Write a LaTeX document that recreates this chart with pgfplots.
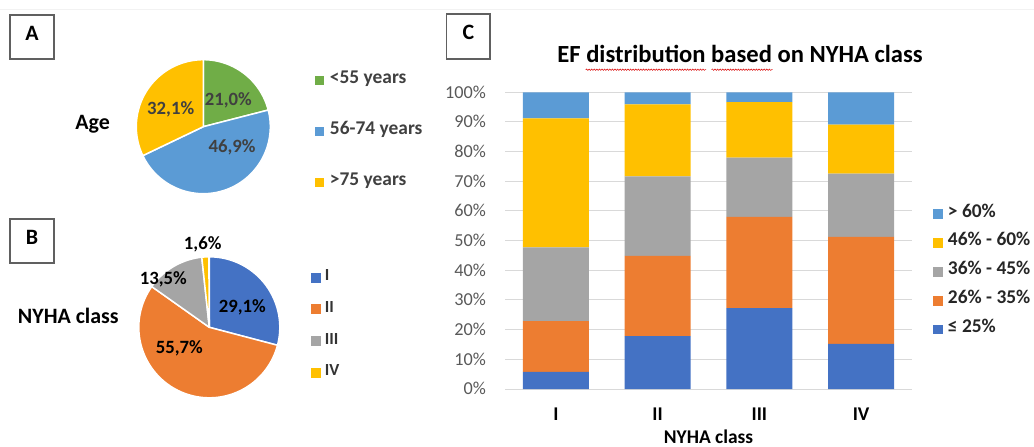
\documentclass[border=0pt]{standalone}
\usepackage{fontspec}
\setmainfont{Carlito}
\usepackage{pgfplots}
\pgfplotsset{compat=1.18}
\usepackage{pgfplotstable}
\usepgfplotslibrary{polar}
\usetikzlibrary{decorations.pathmorphing}
\definecolor{cBlue}{HTML}{4472C4}
\definecolor{cOrange}{HTML}{ED7D31}
\definecolor{cGray}{HTML}{A5A5A5}
\definecolor{cGold}{HTML}{FFC000}
\definecolor{cLBlue}{HTML}{5B9BD5}
\definecolor{cGreen}{HTML}{70AD47}
\definecolor{tDark}{HTML}{404040}
\definecolor{tTick}{HTML}{595959}
\definecolor{gridc}{HTML}{D9D9D9}
\definecolor{boxc}{HTML}{606060}

% EF distribution (stacked shares, %) per NYHA class
\pgfplotstableread{
cls le25 b2635 b3645 b4660 gt60
0 5.8 17.1 24.8 43.5 8.8
1 17.8 27.1 26.8 24.2 4.1
2 27.3 30.7 20.0 18.7 3.3
3 15.2 36.1 21.3 16.5 10.9
}\efdata

% pie slice: colour, cumulative share before, share (percent), clockwise from 12 o'clock
\newcommand\pieslice[3]{%
  \pgfmathsetmacro\pa{90-3.6*(#2+#3)}%
  \pgfmathsetmacro\pb{90-3.6*(#2)}%
  \edef\doslice{\noexpand\addplot[fill=#1, draw=white, line width=1.5pt, line join=round, domain=\pa:\pb, samples=90]}%
  \doslice {1} -- (axis cs:0,0) -- cycle;%
}

\tikzset{cc/.style={inner sep=0pt, text height=0.632em, text depth=0pt, anchor=center}}

\begin{document}
\begin{tikzpicture}
\path[use as bounding box] (0,0) rectangle (1034bp,-447bp);
\draw[black!5, line width=0.8pt] (0,-9.5bp) -- (1034bp,-9.5bp);

% ---------- panel boxes ----------
\draw[boxc, line width=1.1pt] (10bp,-15bp) rectangle (54bp,-59bp);
\node[cc, font=\fontsize{22}{26}\selectfont\bfseries] at (32bp,-37bp) {A};
\draw[boxc, line width=1.1pt] (10bp,-219bp) rectangle (54bp,-263bp);
\node[cc, font=\fontsize{22}{26}\selectfont\bfseries] at (32bp,-241bp) {B};
\draw[boxc, line width=1.1pt] (446.7bp,-14bp) rectangle (490bp,-59bp);
\node[cc, font=\fontsize{22}{26}\selectfont\bfseries] at (468.3bp,-36.5bp) {C};

% ---------- panel A ----------
\node[cc, font=\fontsize{22}{26}\selectfont\bfseries] at (92.7bp,-126bp) {Age};
\begin{polaraxis}[
  at={(203.3bp,-126.7bp)}, anchor=center,
  scale only axis, width=134bp, height=134bp,
  ymin=0, ymax=1, hide axis, clip=false,
  legend style={at={(1.3336,0.4649)}, anchor=west, draw=none, fill=none,
    inner sep=0pt, outer sep=0pt, row sep=41.6pt, column sep=5.5pt,
    font=\fontsize{19.5}{23}\selectfont\bfseries, text=tDark,
    cells={anchor=west}, nodes={inner sep=0pt, text height=0.632em, text depth=0pt}},
  legend image code/.code={\fill[#1, draw=none] (0pt,-4.75pt) rectangle (9.5pt,4.75pt);},
]
\pieslice{cGreen}{0}{21.0}\addlegendentry{<55 years}
\pieslice{cLBlue}{21.0}{46.9}\addlegendentry{56-74 years}
\pieslice{cGold}{67.9}{32.1}\addlegendentry{>75 years}
\end{polaraxis}
\begin{scope}[every node/.style={cc, font=\fontsize{18.8}{22}\selectfont\bfseries, text=tDark}]
\node at (228.3bp,-102bp) {21,0\%};
\node at (232bp,-149bp) {46,9\%};
\node at (170.7bp,-111.7bp) {32,1\%};
\end{scope}

% ---------- panel B ----------
\node[cc, font=\fontsize{22}{26}\selectfont\bfseries] at (68.3bp,-320.5bp) {NYHA class};
\begin{polaraxis}[
  at={(209.3bp,-327.3bp)}, anchor=center,
  scale only axis, width=141bp, height=141bp,
  ymin=0, ymax=1, hide axis, clip=false,
  legend style={at={(1.219,0.5149)}, anchor=west, draw=none, fill=none,
    inner sep=0pt, outer sep=0pt, row sep=21.8pt, column sep=4.3pt,
    font=\fontsize{17}{20}\selectfont\bfseries, text=black!80,
    cells={anchor=west}, nodes={inner sep=0pt, text height=0.632em, text depth=0pt}},
  legend image code/.code={\fill[#1, draw=none] (0pt,-5pt) rectangle (10pt,5pt);},
]
\pieslice{cBlue}{0}{29.1}\addlegendentry{I}
\pieslice{cOrange}{29.1}{55.7}\addlegendentry{II}
\pieslice{cGray}{84.8}{13.5}\addlegendentry{III}
\pieslice{cGold}{98.3}{1.6}\addlegendentry{IV}
\end{polaraxis}
\begin{scope}[every node/.style={cc, font=\fontsize{18.8}{22}\selectfont\bfseries, text=black}]
\node at (242.3bp,-309.3bp) {29,1\%};
\node at (179.3bp,-350bp) {55,7\%};
\node at (163.3bp,-281.7bp) {13,5\%};
\node at (202.7bp,-246.7bp) {1,6\%};
\end{scope}

% ---------- panel C ----------
\begin{axis}[
  at={(505bp,-389bp)}, anchor=south west,
  scale only axis, width=407bp, height=296.7bp,
  ybar stacked, bar width=66bp,
  xmin=-0.5, xmax=3.5, ymin=0, ymax=100,
  xtick={0,1,2,3}, xticklabels={I,II,III,IV},
  ytick={0,10,...,100},
  yticklabel={\pgfmathprintnumber{\tick}\%},
  /pgf/number format/assume math mode=true,
  ymajorgrids, grid style={draw=gridc, line width=1pt},
  axis line style={draw=none}, major tick length=0pt,
  yticklabel style={anchor=base east, inner sep=0pt, xshift=-19pt, yshift=-5.8pt,
    font=\fontsize{18.3}{21}\selectfont, text=tTick},
  xticklabel style={anchor=base, inner sep=0pt, yshift=-31.5pt,
    font=\fontsize{19.5}{23}\selectfont\bfseries, text=black},
  xlabel={NYHA class},
  xlabel style={at={(axis description cs:0.5,0)}, anchor=base, inner sep=0pt, yshift=-54.5pt,
    font=\fontsize{19.5}{23}\selectfont\bfseries},
  title={EF distribution based on NYHA class},
  title style={at={(axis description cs:0.5774,1)}, anchor=base, inner sep=0pt, yshift=24.3pt,
    font=\fontsize{24.7}{29}\selectfont\bfseries},
  reverse legend,
  legend style={at={(1.0516,0.3953)}, anchor=west, draw=none, fill=none,
    inner sep=0pt, outer sep=0pt, row sep=19pt, column sep=5pt,
    font=\fontsize{19.5}{23}\selectfont\bfseries, text=black!85,
    cells={anchor=west}, nodes={inner sep=0pt, text height=0.632em, text depth=0pt}},
  legend image code/.code={\fill[#1, draw=none] (0pt,-5pt) rectangle (10pt,5pt);},
]
\addplot[fill=cBlue, draw=none] table[x=cls, y=le25] {\efdata};
\addlegendentry{≤ 25\%}
\addplot[fill=cOrange, draw=none] table[x=cls, y=b2635] {\efdata};
\addlegendentry{26\% - 35\%}
\addplot[fill=cGray, draw=none] table[x=cls, y=b3645] {\efdata};
\addlegendentry{36\% - 45\%}
\addplot[fill=cGold, draw=none] table[x=cls, y=b4660] {\efdata};
\addlegendentry{46\% - 60\%}
\addplot[fill=cLBlue, draw=none] table[x=cls, y=gt60] {\efdata};
\addlegendentry{> 60\%}
\end{axis}
% spell-check marks under the title
\draw[red!85!black, line width=0.5pt, decorate, decoration={snake, amplitude=0.7pt, segment length=2.6pt}]
  (585.7bp,-69.7bp) -- (706bp,-69.7bp);
\draw[red!85!black, line width=0.5pt, decorate, decoration={snake, amplitude=0.7pt, segment length=2.6pt}]
  (711.6bp,-69.7bp) -- (772.6bp,-69.7bp);
\end{tikzpicture}
\end{document}
